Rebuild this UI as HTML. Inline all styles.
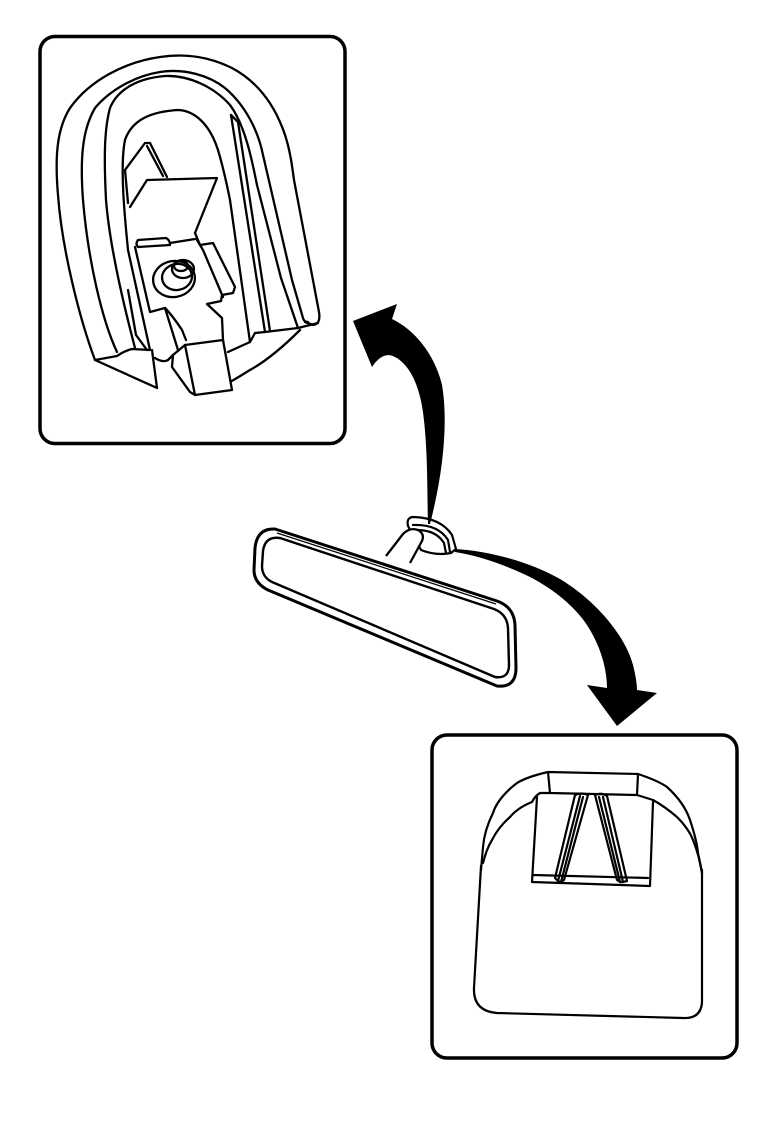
<!DOCTYPE html>
<html>
<head>
<meta charset="utf-8">
<style>
html,body{margin:0;padding:0;background:#fff;}
svg{display:block;}
</style>
</head>
<body>
<svg width="768" height="1122" viewBox="0 0 768 1122" xmlns="http://www.w3.org/2000/svg">
<rect x="0" y="0" width="768" height="1122" fill="#fff"/>

<!-- Box 1 -->
<rect x="40" y="36.5" width="305" height="407" rx="15" ry="15" fill="#fff" stroke="#000" stroke-width="3.5"/>

<g fill="none" stroke="#000" stroke-width="2.3" stroke-linejoin="round" stroke-linecap="round">
  <!-- outer U -->
  <path d="M95,360 C80,320 62,250 58,195 C55,160 56,130 70,108 C90,80 125,62 160,57 C185,53 210,57 232,68 C258,82 275,105 285,135 C290,150 292,165 294,180 L319,312 Q321,324 313,325 L305,322"/>
  <!-- rim line 2 -->
  <path d="M117,352 C102,320 88,260 83,200 C80,160 82,130 95,108 C110,90 135,76 160,72 C185,68 210,76 225,88 C245,105 258,130 263,155 L292,280 L303,318 Q304,322 308,322"/>
  <!-- rim line 3 -->
  <path d="M135,348 C125,310 110,250 106,200 C104,160 104,130 110,108 C118,88 140,78 165,76 C190,75 215,88 230,105 C245,125 252,160 257,185 L281,278 L298,328"/>
  <!-- inner face lines left -->
  <path d="M128,290 L136,335 L147,350"/>
  <!-- inner arch -->
  <path d="M150,350 L128,250 C124,210 120,165 125,140 C132,120 150,112 177,110 C195,110 210,125 218,150 C224,170 228,190 230,200 L250,342"/>
  <!-- wedge -->
  <path d="M231,115 L265,332"/>
  <path d="M231,115 L238,122 L270,331"/>
  <!-- bottom right edges -->
  <path d="M318,323 L298,328 L265,332 L255,333 L250,342 L228,352"/>
  <path d="M300,330 C285,345 268,360 250,370 C240,376 234,380 228,383"/>
  <!-- bottom left triangle -->
  <path d="M95,360 L117,356 Q124,351 132,349 L150,350"/>
  <path d="M95,360 L157,388 L152,350"/>
  <path d="M155,358 Q163,363 168,360 L173,355"/>

  <!-- clip: vertical tab -->
  <path d="M125,170 L145,143 L150,143 L167,177"/>
  <path d="M147,146 L163,176"/>
  <path d="M125,170 L128,203"/>
  <!-- top plate -->
  <path d="M130,207 L147,180 L217,178 L195,233"/>
  <!-- slot -->
  <path d="M138,240 L166,238 Q170,240 170,245 L138,247 Q135,244 138,240 Z"/>
  <path d="M170,243 L195,239"/>
  <!-- body right stepped edge -->
  <path d="M195,233 L200,245 L213,243 L235,287 L233,293 L222,295 L221,301 L207,304 L222,318 L223,340"/>
  <path d="M197,240 L203,250 L223,297"/>
  <!-- body left edge -->
  <path d="M135,247 L150,312 L165,308"/>
  <path d="M165,308 Q172,315 182,330 L186,340"/>
  <path d="M165,308 L178,350"/>
  <!-- button -->
  <ellipse cx="174" cy="279" rx="21" ry="18" transform="rotate(-10 174 279)"/>
  <ellipse cx="177" cy="277" rx="15" ry="13" transform="rotate(-10 177 277)"/>
  <ellipse cx="183" cy="269" rx="11" ry="9"/>
  <ellipse cx="181" cy="266" rx="7" ry="5"/>
  <!-- bottom tab block -->
  <path d="M185,345 L223,340 L232,390 L195,395 Z" fill="#fff"/>
  <path d="M185,345 L173,355 L172,367 L190,392 L195,395"/>
</g>

<!-- Box 2 -->
<rect x="432" y="735" width="305" height="323" rx="15" ry="15" fill="#fff" stroke="#000" stroke-width="3.5"/>
<g fill="none" stroke="#000" stroke-width="2.2" stroke-linejoin="round" stroke-linecap="round">
  <!-- cap -->
  <path d="M548,772 L638,774 L637,795 L550,793 Z"/>
  <!-- outer arcs -->
  <path d="M548,772 C535,775 525,778 517,783 C505,792 496,803 493,813 C487,825 484,835 483,847 L481,870"/>
  <path d="M638,774 C650,778 660,782 667,787 C678,797 686,808 690,820 C694,832 697,843 698,853 L702,873"/>
  <!-- inner arcs -->
  <path d="M550,793 L540,793 Q535,796 532,802 C522,806 515,811 510,817 C502,824 496,832 492,840 C487,848 485,856 483,863"/>
  <path d="M637,795 L653,800 C662,805 670,811 677,817 C684,824 690,832 693,840 C697,850 700,860 702,873"/>
  <!-- body -->
  <path d="M481,866 L474,988 Q473,1011 497,1013 L683,1018 Q701,1019 702,1002 L702,870"/>
  <!-- inner rect -->
  <path d="M537,797 L532,882 L650,886 L653,802"/>
  <path d="M533,875 L648,878"/>
  <!-- left rib -->
  <path d="M575,795 L555,878 L558,881 L561,882 L564,880 L588,795"/>
  <path d="M580,796 L558,881"/>
  <path d="M583,797 L561,882"/>
  <path d="M575,795 Q581,792 588,795"/>
  <!-- right rib -->
  <path d="M595,795 L617,880 L620,882 L623,882 L627,881 L607,796"/>
  <path d="M599,797 L620,882"/>
  <path d="M603,797 L623,882"/>
  <path d="M595,795 Q601,792 607,796"/>
</g>

<!-- Mirror mount -->
<g fill="#fff" stroke="#000" stroke-width="2.2" stroke-linejoin="round" stroke-linecap="round">
  <path d="M408,526 Q406,517 414,517 Q441,518 452,535 L456,549 L451,553 Q436,556 421,550 Z"/>
  <path d="M413,525 Q438,524 448,540 L450,552" fill="none"/>
  <path d="M417,530 Q436,530 444,543 L446,553" fill="none"/>
</g>

<!-- Arrow up -->
<path d="M428,524 C427,490 428,450 423,412 C419,385 410,365 395,357 C388,353 380,355 372,367 L353,321 L397,304 L392,319 C415,330 435,355 442,385 C448,420 444,470 430,524 Z" fill="#000"/>

<!-- Arrow down -->
<path d="M455,549 C490,551 530,562 560,579 C595,600 625,635 633,665 C636,677 637,685 637,690 L657,693 L617,726 L587,685 L607,688 C607,668 600,645 587,625 C575,607 555,590 530,577 C505,565 480,556 455,552 Z" fill="#000"/>

<!-- Stem -->
<path d="M386,556 L403,534 Q410,527 418,530 Q425,534 422,541 L410,563" fill="#fff" stroke="#000" stroke-width="2.3" stroke-linejoin="round"/>

<!-- Mirror -->
<path d="M275,529 L497,601 Q514,607 515,625 L516,668 Q516,688 497,686 L268,590 Q254,583 254,570 L255,548 Q257,528 275,529 Z" fill="#fff" stroke="#000" stroke-width="3" stroke-linejoin="round"/>
<path d="M277,533 L496,604" fill="none" stroke="#000" stroke-width="1.2"/>
<path d="M280,538 L494,609 Q507,614 508,628 L509,665 Q509,679 495,677 L272,582 Q262,577 262,566 L263,551 Q265,536 280,538 Z" fill="#fff" stroke="#000" stroke-width="2.4" stroke-linejoin="round"/>
</svg>
</body>
</html>
